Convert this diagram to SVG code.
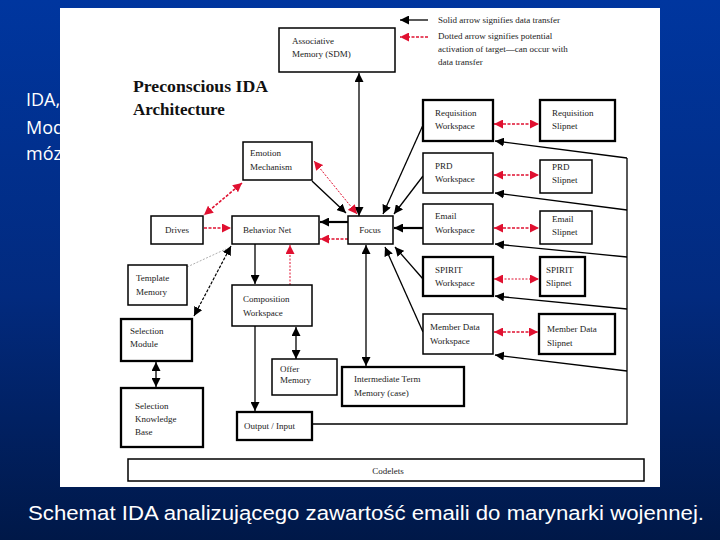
<svg xmlns="http://www.w3.org/2000/svg" width="720" height="540" viewBox="0 0 720 540">
<defs>
<linearGradient id="bg" x1="0" y1="0" x2="0" y2="1">
<stop offset="0" stop-color="#00369f"/>
<stop offset="0.55" stop-color="#022a7e"/>
<stop offset="1" stop-color="#001848"/>
</linearGradient>
<marker id="ab" viewBox="0 0 10 10" refX="10" refY="5" markerWidth="9" markerHeight="9" markerUnits="userSpaceOnUse" orient="auto-start-reverse"><path d="M0,0 L10,5 L0,10 z" fill="#000"/></marker>
<marker id="ar" viewBox="0 0 10 10" refX="10" refY="5" markerWidth="9" markerHeight="9" markerUnits="userSpaceOnUse" orient="auto-start-reverse"><path d="M0,0 L10,5 L0,10 z" fill="#e01030"/></marker>
<style>
.box{fill:#fff;stroke:#000;stroke-width:1.5}
.thk{stroke-width:2.3}
.t{font-family:"Liberation Serif",serif;font-size:9px;fill:#222}
.lg{font-family:"Liberation Serif",serif;font-size:9px;fill:#222}
.s{fill:none;stroke:#000;stroke-width:1.3}
.sb{fill:none;stroke:#000;stroke-width:2.2}
.r{fill:none;stroke:#e01030;stroke-width:1.6;stroke-dasharray:3,1.5}
.rt{fill:none;stroke:#e01030;stroke-width:1;stroke-dasharray:2,1.5}
</style>
</defs>
<rect x="0" y="0" width="720" height="540" fill="url(#bg)"/>
<g font-family="'Open Sans','Liberation Sans',sans-serif" font-size="18" fill="#fff">
<text x="26" y="106">IDA,</text>
<text x="26" y="134">Mod</text>
<text x="26" y="160">móz</text>
</g>
<rect x="60" y="8" width="600" height="479" fill="#fff"/>
<g id="title" font-family="'Liberation Serif',serif" font-weight="bold" font-size="17" fill="#111">
<text x="133" y="92" textLength="135" lengthAdjust="spacingAndGlyphs">Preconscious IDA</text>
<text x="133" y="115">Architecture</text>
</g>
<g id="legend">
<line x1="428" y1="20" x2="400" y2="20" class="s" stroke-width="1.6" marker-end="url(#ab)"/>
<line x1="428" y1="37" x2="400" y2="37" class="r" marker-end="url(#ar)"/>
<text class="lg" x="438" y="23">Solid arrow signifies data transfer</text>
<text class="lg" x="438" y="39">Dotted arrow signifies potential</text>
<text class="lg" x="438" y="52">activation of target—can occur with</text>
<text class="lg" x="438" y="65">data transfer</text>
</g>
<g id="connectors">
<line x1="359" y1="216" x2="359" y2="73" class="s" stroke-width="1.6" marker-start="url(#ab)" marker-end="url(#ab)"/>
<line x1="366" y1="366" x2="366" y2="245" class="s" stroke-width="1.6" marker-start="url(#ab)" marker-end="url(#ab)"/>
<line x1="312" y1="181" x2="346" y2="213" class="s" marker-end="url(#ab)"/>
<line x1="357" y1="214" x2="314" y2="161" class="rt" marker-start="url(#ar)" marker-end="url(#ar)"/>
<line x1="242" y1="183" x2="204" y2="215" class="r" marker-start="url(#ar)" marker-end="url(#ar)"/>
<line x1="204" y1="228" x2="231" y2="228" class="r" marker-end="url(#ar)"/>
<line x1="348" y1="222" x2="320" y2="222" class="sb" marker-end="url(#ab)"/>
<line x1="348" y1="239" x2="320" y2="239" class="r" marker-end="url(#ar)"/>
<line x1="255" y1="244" x2="255" y2="284" class="s" marker-end="url(#ab)"/>
<line x1="290" y1="285" x2="290" y2="245" class="rt" marker-end="url(#ar)"/>
<line x1="187" y1="267" x2="226" y2="249" fill="none" stroke="#999" stroke-width="0.8" stroke-dasharray="2,1.5"/>
<line x1="194" y1="316" x2="231" y2="246" fill="none" stroke="#000" stroke-width="1.2" stroke-dasharray="3,1.5" marker-start="url(#ab)" marker-end="url(#ab)"/>
<line x1="296" y1="327" x2="296" y2="359" class="s" stroke-width="1.6" marker-start="url(#ab)" marker-end="url(#ab)"/>
<line x1="255" y1="326" x2="255" y2="411" class="s" marker-end="url(#ab)"/>
<line x1="156" y1="362" x2="156" y2="387" class="s" stroke-width="2" marker-start="url(#ab)" marker-end="url(#ab)"/>
<line x1="423" y1="125" x2="383" y2="214" class="s" marker-end="url(#ab)"/>
<line x1="423" y1="176" x2="394" y2="214" class="s" marker-end="url(#ab)"/>
<line x1="423" y1="228" x2="394" y2="228" class="sb" marker-end="url(#ab)"/>
<line x1="423" y1="279" x2="395" y2="247" class="s" marker-end="url(#ab)"/>
<line x1="423" y1="332" x2="385" y2="247" class="s" marker-end="url(#ab)"/>
<line x1="494" y1="124" x2="539" y2="124" class="r" marker-start="url(#ar)" marker-end="url(#ar)"/>
<line x1="494" y1="175" x2="539" y2="175" class="r" marker-start="url(#ar)" marker-end="url(#ar)"/>
<line x1="494" y1="228" x2="539" y2="228" class="r" marker-start="url(#ar)" marker-end="url(#ar)"/>
<line x1="494" y1="279" x2="539" y2="279" class="rt" marker-start="url(#ar)" marker-end="url(#ar)"/>
<line x1="494" y1="332" x2="538" y2="332" class="r" marker-start="url(#ar)" marker-end="url(#ar)"/>
<polyline points="312,424 627,424 627,158" class="s"/>
<line x1="627" y1="158" x2="495" y2="141" class="s" marker-end="url(#ab)"/>
<line x1="627" y1="210" x2="495" y2="193" class="s" marker-end="url(#ab)"/>
<line x1="627" y1="257" x2="495" y2="244" class="s" marker-end="url(#ab)"/>
<line x1="627" y1="309" x2="495" y2="296" class="s" marker-end="url(#ab)"/>
<line x1="627" y1="371" x2="495" y2="355" class="s" marker-end="url(#ab)"/>
</g>
<g id="associative-memory"><rect class="box" x="279" y="28" width="116" height="44"/><text class="t" x="292" y="44">Associative</text><text class="t" x="292" y="57">Memory (SDM)</text></g>
<g id="emotion-mechanism"><rect class="box" x="243" y="142" width="69" height="38"/><text class="t" x="250" y="156">Emotion</text><text class="t" x="250" y="170">Mechanism</text></g>
<g id="drives"><rect class="box" x="151" y="216" width="52" height="28"/><text class="t" x="177" y="233" text-anchor="middle">Drives</text></g>
<g id="behavior-net"><rect class="box" x="232" y="216" width="87" height="28"/><text class="t" x="243" y="233">Behavior Net</text></g>
<g id="focus"><rect class="box" x="348" y="216" width="45" height="28"/><text class="t" x="370" y="233" text-anchor="middle">Focus</text></g>
<g id="template-memory"><rect class="box" x="128" y="265" width="59" height="40"/><text class="t" x="136" y="281">Template</text><text class="t" x="136" y="295">Memory</text></g>
<g id="composition-workspace"><rect class="box" x="232" y="285" width="80" height="41"/><text class="t" x="243" y="302">Composition</text><text class="t" x="243" y="316">Workspace</text></g>
<g id="selection-module"><rect class="box thk" x="121" y="319" width="71" height="42"/><text class="t" x="130" y="334">Selection</text><text class="t" x="130" y="347">Module</text></g>
<g id="offer-memory"><rect class="box" x="272" y="359" width="65" height="36"/><text class="t" x="280" y="372">Offer</text><text class="t" x="280" y="383">Memory</text></g>
<g id="selection-knowledge-base"><rect class="box thk" x="121" y="388" width="82" height="59"/><text class="t" x="135" y="409">Selection</text><text class="t" x="135" y="422">Knowledge</text><text class="t" x="135" y="435">Base</text></g>
<g id="output-input"><rect class="box thk" x="237" y="412" width="75" height="28"/><text class="t" x="244" y="429">Output / Input</text></g>
<g id="intermediate-term-memory"><rect class="box thk" x="342" y="367" width="122" height="39"/><text class="t" x="354" y="382">Intermediate Term</text><text class="t" x="354" y="396">Memory (case)</text></g>
<g id="requisition-workspace"><rect class="box thk" x="423" y="100" width="70" height="41"/><text class="t" x="435" y="116">Requisition</text><text class="t" x="435" y="129">Workspace</text></g>
<g id="requisition-slipnet"><rect class="box thk" x="540" y="100" width="75" height="41"/><text class="t" x="552" y="116">Requisition</text><text class="t" x="552" y="129">Slipnet</text></g>
<g id="prd-workspace"><rect class="box" x="423" y="153" width="70" height="40"/><text class="t" x="435" y="169">PRD</text><text class="t" x="435" y="182">Workspace</text></g>
<g id="prd-slipnet"><rect class="box" x="540" y="160" width="52" height="33"/><text class="t" x="552" y="170">PRD</text><text class="t" x="552" y="183">Slipnet</text></g>
<g id="email-workspace"><rect class="box" x="423" y="204" width="70" height="40"/><text class="t" x="435" y="219">Email</text><text class="t" x="435" y="233">Workspace</text></g>
<g id="email-slipnet"><rect class="box" x="540" y="211" width="52" height="33"/><text class="t" x="552" y="222">Email</text><text class="t" x="552" y="235">Slipnet</text></g>
<g id="spirit-workspace"><rect class="box thk" x="423" y="257" width="70" height="39"/><text class="t" x="435" y="273">SPIRIT</text><text class="t" x="435" y="286">Workspace</text></g>
<g id="spirit-slipnet"><rect class="box thk" x="540" y="257" width="45" height="39"/><text class="t" x="546" y="273">SPIRIT</text><text class="t" x="546" y="286">Slipnet</text></g>
<g id="member-data-workspace"><rect class="box" x="423" y="314" width="70" height="40"/><text class="t" x="430" y="330">Member Data</text><text class="t" x="430" y="344">Workspace</text></g>
<g id="member-data-slipnet"><rect class="box thk" x="539" y="314" width="76" height="40"/><text class="t" x="547" y="332">Member Data</text><text class="t" x="547" y="346">Slipnet</text></g>
<g id="codelets"><rect class="box" x="128" y="459" width="516" height="22"/><text class="t" x="388" y="474" text-anchor="middle">Codelets</text></g>
<text x="366" y="520" text-anchor="middle" font-family="'Liberation Sans',Arial,sans-serif" font-size="20" fill="#fff" textLength="676" lengthAdjust="spacingAndGlyphs">Schemat IDA analizującego zawartość emaili do marynarki wojennej.</text>
</svg>
